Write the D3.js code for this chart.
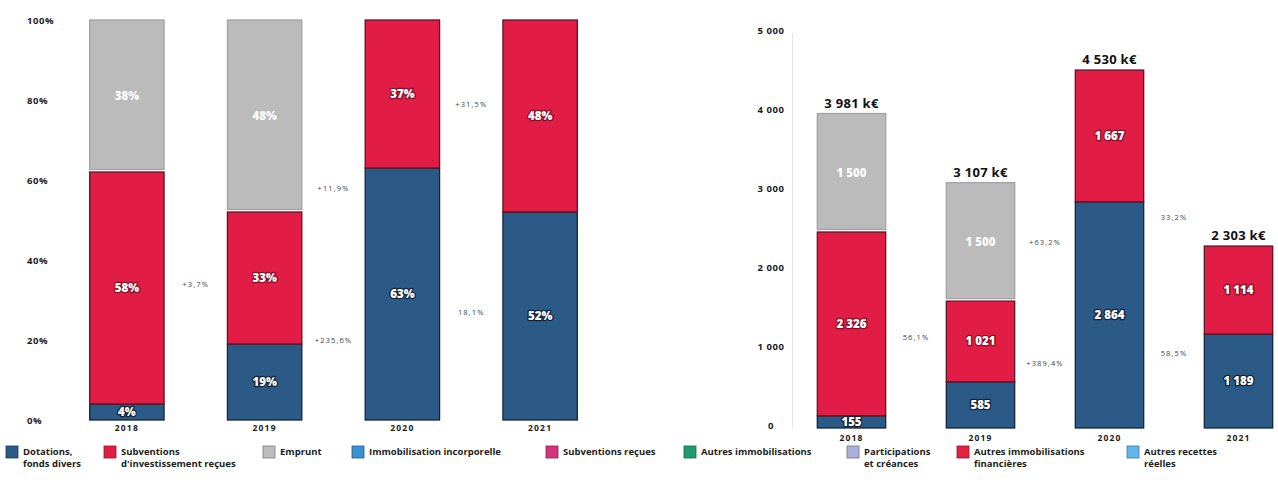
<!DOCTYPE html>
<html lang="fr">
<head>
<meta charset="utf-8">
<script src="https://cdn.jsdelivr.net/npm/d3@7"></script>
<style>
  html, body { margin: 0; padding: 0; background: #ffffff; }
  svg { display: block; font-family: "Open Sans", "DejaVu Sans", sans-serif; }
</style>
</head>
<body>
<svg id="chart" width="1278" height="488"></svg>
<script>
// ---- Data -------------------------------------------------------------
const years = ["2018", "2019", "2020", "2021"];

// Share of each resource in the yearly total (%)
const shareDotations   = [4, 19, 63, 52];
const shareSubventions = [58, 33, 37, 48];
const shareEmprunt     = [38, 48, 0, 0];
const shareTicks       = [0, 20, 40, 60, 80, 100];
const shareChanges = [
  { text: "+3,7%",   between: 0, value: 34 },
  { text: "+11,9%",  between: 1, value: 58 },
  { text: "+235,6%", between: 1, value: 20 },
  { text: "+31,5%",  between: 2, value: 79 },
  { text: "18,1%",   between: 2, value: 27 }
];

// Amounts in k€
const amountDotations   = [155, 585, 2864, 1189];
const amountSubventions = [2326, 1021, 1667, 1114];
const amountEmprunt     = [1500, 1500, 0, 0];
const amountTotals      = [3981, 3107, 4530, 2303];
const amountTicks       = [0, 1000, 2000, 3000, 4000, 5000];
const amountChanges = [
  { text: "56,1%",   between: 0, value: 1150 },
  { text: "+63,2%",  between: 1, value: 2350 },
  { text: "+389,4%", between: 1, value: 820 },
  { text: "33,2%",   between: 2, value: 2670 },
  { text: "58,5%",   between: 2, value: 950 }
];

const legendLabels = [
  ["Dotations,", "fonds divers"],
  ["Subventions", "d'investissement reçues"],
  ["Emprunt"],
  ["Immobilisation incorporelle"],
  ["Subventions reçues"],
  ["Autres immobilisations"],
  ["Participations", "et créances"],
  ["Autres immobilisations", "financières"],
  ["Autres recettes", "réelles"]
];
const legendColors = ["#2c5a87", "#e11d45", "#bdbdbd", "#3b8fd3", "#d4337f",
                      "#1f9c6f", "#a9b0da", "#e2213e", "#62b6ea"];
const legendX = [6, 104, 263, 352, 546, 684, 847, 957, 1127];

// ---- Styles -----------------------------------------------------------
const BLUE = "#2c5a87", RED = "#e11d45", GREY = "#bbbbbb";
const series = [
  { key: "dot", fill: BLUE, edge: "#14263b", halo: "#13243a" },
  { key: "sub", fill: RED,  edge: "#5e1426", halo: "#8a0f2a" },
  { key: "emp", fill: GREY, edge: "#a3a3a3", halo: null }
];

const fr = d3.formatLocale({ decimal: ",", thousands: "\u00a0", grouping: [3], currency: ["", " €"] });
const fmtAmount = fr.format(",d");

const svg = d3.select("#chart");

function stackRows(a, b, c) {
  return years.map((y, i) => ({ year: y, dot: a[i], sub: b[i], emp: c[i] }));
}

// Draws one stacked-bar panel
function panel(opts) {
  const g = svg.append("g");
  const x = d3.scaleBand().domain(years).range(opts.xRange)
    .paddingInner(opts.padIn).paddingOuter(opts.padIn / 2);
  const y = d3.scaleLinear().domain(opts.domain).range(opts.yRange);

  const rows = stackRows(...opts.values);
  const stacked = d3.stack().keys(series.map(s => s.key))(rows);

  // Axis
  const axis = g.append("g")
    .attr("transform", `translate(${opts.axisX},0)`)
    .call(d3.axisLeft(y).tickValues(opts.ticks).tickSize(0).tickFormat(opts.tickFormat));
  axis.select(".domain").attr("stroke", opts.axisLine ? "#e4e4e4" : "none");
  axis.selectAll("text")
    .attr("x", opts.tickX).attr("dy", opts.tickDy)
    .attr("text-anchor", opts.tickAnchor)
    .attr("fill", "#1a1a1a").attr("font-size", 9.5).attr("font-weight", 700)
    .attr("letter-spacing", 0.6)
    .attr("font-family", "'Open Sans', sans-serif");

  // Segments
  stacked.forEach((layer, li) => {
    const s = series[li];
    const above = stacked[li + 1];
    g.append("g").selectAll("rect")
      .data(layer.filter(d => d[1] > d[0]))
      .join("rect")
      .attr("x", d => x(d.data.year))
      .attr("width", x.bandwidth())
      .attr("y", d => y(d[1]))
      .attr("height", d => {
        let h = y(d[0]) - y(d[1]);
        // leave a light gap under a grey segment
        if (s.key === "emp") h -= 2.5;
        return Math.max(0, h);
      })
      .attr("fill", s.fill)
      .attr("stroke", s.edge)
      .attr("stroke-width", 1.3);
  });

  // Segment labels
  stacked.forEach((layer, li) => {
    const s = series[li];
    g.append("g").selectAll("text")
      .data(layer.filter(d => d[1] > d[0]))
      .join("text")
      .attr("x", d => x(d.data.year) + x.bandwidth() / 2)
      .attr("y", d => (y(d[0]) + y(d[1])) / 2)
      .attr("dy", "0.35em")
      .attr("text-anchor", "middle")
      .attr("font-size", 11.5).attr("font-weight", 800)
      .attr("fill", "#ffffff")
      .attr("stroke", s.halo || "none")
      .attr("stroke-width", s.halo ? 2.6 : 0)
      .attr("stroke-linejoin", "round")
      .attr("paint-order", "stroke")
      .attr("opacity", s.halo ? 1 : 0.95)
      .text(d => opts.segFormat(d[1] - d[0]));
  });

  // Totals above the bars
  if (opts.totals) {
    g.append("g").selectAll("text")
      .data(years)
      .join("text")
      .attr("x", d => x(d) + x.bandwidth() / 2)
      .attr("y", (d, i) => y(opts.totals[i]) - 6)
      .attr("text-anchor", "middle")
      .attr("font-size", 13).attr("font-weight", 700)
      .attr("letter-spacing", 0.3)
      .attr("fill", "#111")
      .text((d, i) => fmtAmount(opts.totals[i]) + "\u00a0k€");
  }

  // Year labels
  g.append("g").selectAll("text")
    .data(years)
    .join("text")
    .attr("x", d => x(d) + x.bandwidth() / 2)
    .attr("y", opts.yearY)
    .attr("text-anchor", "middle")
    .attr("font-size", 8.5).attr("font-weight", 700)
    .attr("letter-spacing", 1.2)
    .attr("fill", "#1a1a1a")
    .text(d => d);

  // Year-on-year change notes between bars
  g.append("g").selectAll("text")
    .data(opts.changes)
    .join("text")
    .attr("x", d => (x(years[d.between]) + x(years[d.between + 1]) + x.bandwidth()) / 2)
    .attr("y", d => y(d.value))
    .attr("dy", "0.35em")
    .attr("text-anchor", "middle")
    .attr("font-size", 7.5)
    .attr("letter-spacing", 1.1)
    .attr("fill", "#3a3f4a")
    .text(d => d.text);
}

panel({
  values: [shareDotations, shareSubventions, shareEmprunt],
  domain: [0, 100], yRange: [420, 20],
  xRange: [58, 609], padIn: 0.46,
  axisX: 60, tickX: -33, tickAnchor: "start", tickDy: "0.32em",
  ticks: shareTicks, tickFormat: d => d + "%",
  axisLine: false,
  segFormat: v => Math.round(v) + "%",
  yearY: 431,
  changes: shareChanges
});

panel({
  values: [amountDotations, amountSubventions, amountEmprunt],
  domain: [0, 5000], yRange: [428, 33],
  xRange: [787, 1303], padIn: 0.47,
  axisX: 792, tickX: -21, tickAnchor: "middle", tickDy: "0.1em",
  ticks: amountTicks, tickFormat: fmtAmount,
  axisLine: true,
  segFormat: v => fmtAmount(v),
  totals: amountTotals,
  yearY: 441,
  changes: amountChanges
});

// ---- Legend -----------------------------------------------------------
const legend = svg.append("g");
legendLabels.forEach((lines, i) => {
  const item = legend.append("g").attr("transform", `translate(${legendX[i]},446)`);
  item.append("rect")
    .attr("width", 12).attr("height", 12)
    .attr("fill", legendColors[i])
    .attr("stroke", d3.color(legendColors[i]).darker(1.2))
    .attr("stroke-width", 0.8);
  item.append("text")
    .attr("x", 17).attr("y", 9)
    .attr("font-size", 9.5).attr("font-weight", 700)
    .attr("fill", "#1c1c1c")
    .selectAll("tspan")
    .data(lines)
    .join("tspan")
    .attr("x", 17)
    .attr("dy", (d, j) => j === 0 ? 0 : 12)
    .text(d => d);
});
</script>
</body>
</html>
